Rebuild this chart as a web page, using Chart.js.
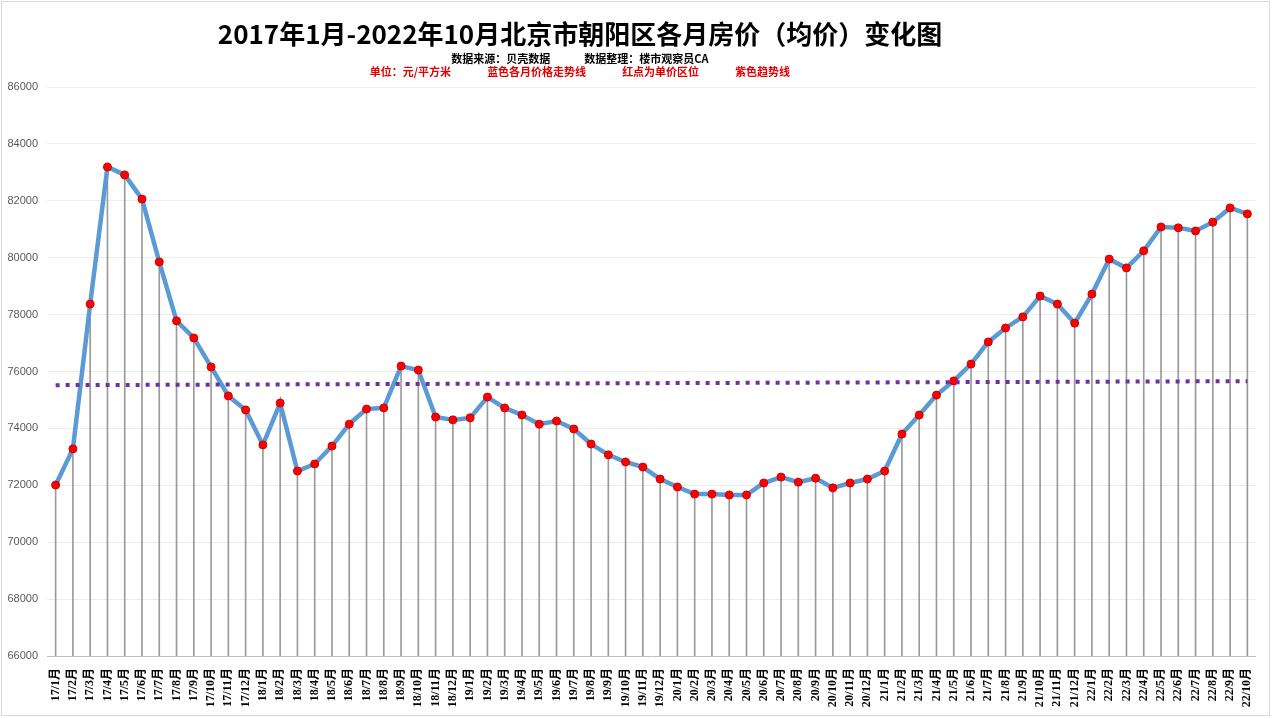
<!DOCTYPE html>
<html>
<head>
<meta charset="utf-8">
<script src="https://cdn.jsdelivr.net/npm/chart.js@4"></script>
<style>
  html, body { margin: 0; padding: 0; background: #fff; }
  #wrap { position: relative; width: 1275px; height: 718px; }
  #frame { position: absolute; left: 1px; top: 1px; width: 1267px; height: 713px; border: 1px solid #d9d9d9; pointer-events: none; }
  .t { position: absolute; left: 0; width: 1160px; text-align: center; font-family: "Noto Sans CJK SC", sans-serif; font-weight: bold; white-space: pre; }
  #title { top: 14px; font-size: 26px; color: #000; }
  #src { top: 50px; font-size: 11px; color: #000; }
  #note { top: 63px; font-size: 11px; color: #e00000; }
  .gap { display: inline-block; width: 34px; }
  .gap2 { display: inline-block; width: 36px; }
</style>
</head>
<body>
<div id="wrap">
  <canvas id="chart" width="1275" height="718"></canvas>
  <div class="t" id="title">2017年1月-2022年10月北京市朝阳区各月房价（均价）变化图</div>
  <div class="t" id="src">数据来源：贝壳数据<span class="gap"></span>数据整理：楼市观察员CA</div>
  <div class="t" id="note">单位：元/平方米<span class="gap2"></span>蓝色各月价格走势线<span class="gap2"></span>红点为单价区位<span class="gap2"></span>紫色趋势线</div>
  <div id="frame"></div>
</div>
<script>
const months = [
  '17/1月', '17/2月', '17/3月', '17/4月', '17/5月', '17/6月', '17/7月', '17/8月', '17/9月', '17/10月', '17/11月', '17/12月',
  '18/1月', '18/2月', '18/3月', '18/4月', '18/5月', '18/6月', '18/7月', '18/8月', '18/9月', '18/10月', '18/11月', '18/12月',
  '19/1月', '19/2月', '19/3月', '19/4月', '19/5月', '19/6月', '19/7月', '19/8月', '19/9月', '19/10月', '19/11月', '19/12月',
  '20/1月', '20/2月', '20/3月', '20/4月', '20/5月', '20/6月', '20/7月', '20/8月', '20/9月', '20/10月', '20/11月', '20/12月',
  '21/1月', '21/2月', '21/3月', '21/4月', '21/5月', '21/6月', '21/7月', '21/8月', '21/9月', '21/10月', '21/11月', '21/12月',
  '22/1月', '22/2月', '22/3月', '22/4月', '22/5月', '22/6月', '22/7月', '22/8月', '22/9月', '22/10月'
];

const prices = [
  72010, 73280, 78370, 83190, 82910, 82060, 79850, 77780, 77180, 76160, 75140, 74650,
  73420, 74890, 72500, 72750, 73380, 74150, 74680, 74720, 76190, 76050, 74400, 74300,
  74370, 75100, 74720, 74470, 74150, 74260, 73980, 73450, 73070, 72820, 72640, 72220,
  71940, 71690, 71690, 71660, 71660, 72080, 72290, 72110, 72250, 71910, 72080, 72220,
  72500, 73800, 74470, 75170, 75670, 76260, 77040, 77530, 77920, 78650, 78370, 77700,
  78720, 79950, 79640, 80240, 81080, 81050, 80940, 81250, 81750, 81540
];

// trend line ends
const trendStart = 75520;
const trendEnd = 75660;

const yMin = 66000;
const yMax = 86000;
const yStep = 2000;

new Chart(document.getElementById('chart').getContext('2d'), {
  data: {
    labels: months,
    datasets: [
      {
        type: 'line',
        label: '紫色趋势线',
        data: [{ x: months[0], y: trendStart }, { x: months[months.length - 1], y: trendEnd }],
        borderColor: '#7030a0',
        borderWidth: 4,
        borderDash: [4, 6],
        pointRadius: 0,
        order: 1
      },
      {
        type: 'line',
        label: '蓝色各月价格走势线',
        data: prices,
        borderColor: '#5b9bd5',
        borderWidth: 4.5,
        pointRadius: 4,
        pointBackgroundColor: '#ff0000',
        pointBorderColor: '#d00000',
        pointBorderWidth: 1,
        tension: 0,
        order: 2
      },
      {
        type: 'bar',
        label: 'drop',
        data: prices,
        backgroundColor: '#9a9a9a',
        barThickness: 1,
        order: 3
      }
    ]
  },
  options: {
    responsive: false,
    animation: false,
    layout: { padding: { top: 87, right: 19, left: 0, bottom: 0 } },
    plugins: { legend: { display: false }, tooltip: { enabled: false } },
    scales: {
      x: {
        type: 'category',
        offset: true,
        grid: { display: false },
        border: { display: false },
        afterFit: s => { s.height = 62; },
        ticks: {
          autoSkip: false,
          minRotation: 90,
          maxRotation: 90,
          padding: 4,
          color: '#000',
          font: { family: "'Liberation Serif', 'Noto Sans CJK SC', serif", size: 12, weight: 'bold' }
        }
      },
      y: {
        min: yMin,
        max: yMax,
        afterFit: s => { s.width = 47; },
        border: { display: false },
        grid: {
          drawTicks: false,
          color: ctx => ctx.tick && ctx.tick.value === yMin ? '#bfbfbf' : '#ececec'
        },
        ticks: {
          stepSize: yStep,
          padding: 9,
          color: '#595959',
          font: { family: "'Liberation Sans', sans-serif", size: 11 },
          callback: v => String(v)
        }
      }
    }
  }
});
</script>
</body>
</html>
